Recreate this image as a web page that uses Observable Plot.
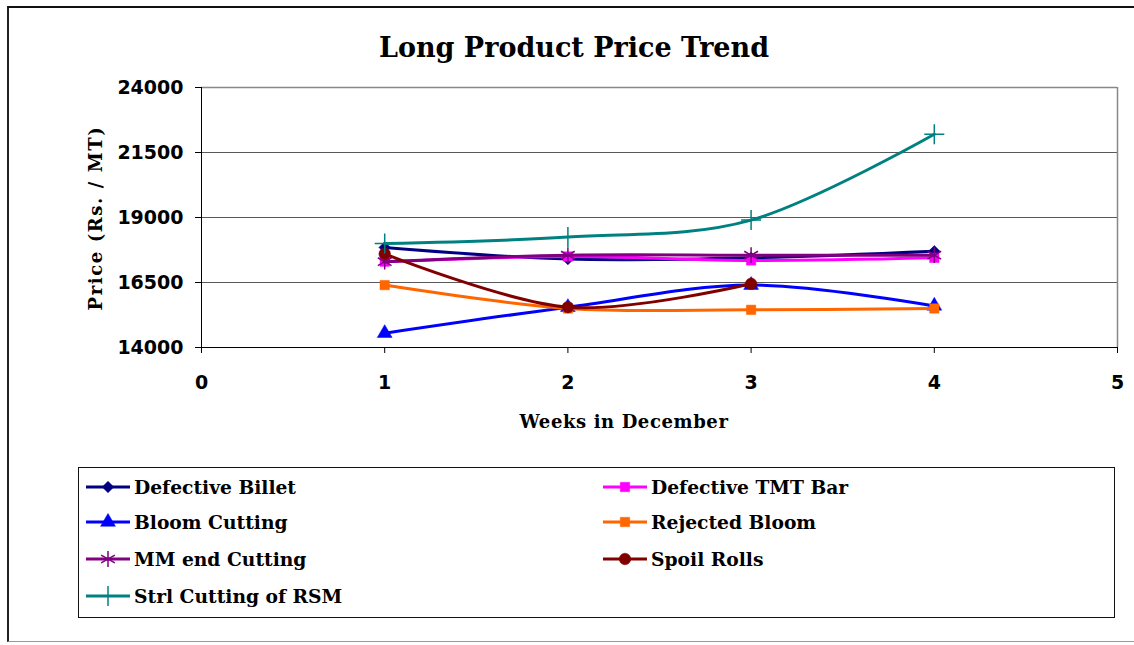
<!DOCTYPE html>
<html>
<head>
<meta charset="utf-8">
<script src="https://cdn.jsdelivr.net/npm/d3@7"></script>
<script src="https://cdn.jsdelivr.net/npm/@observablehq/plot@0.6"></script>
<style>
  html, body { margin: 0; padding: 0; background: #fff; }
  #wrap { position: relative; width: 1134px; height: 645px; overflow: hidden; background: #fff; }
  #frame { position: absolute; left: 7px; top: 6px; width: 1140px; height: 636px;
           border-left: 2px solid #222; border-top: 2px solid #111; border-bottom: 1px solid #999; box-sizing: border-box; }
  .txt { position: absolute; transform: translate(-50%, -50%); white-space: nowrap;
         font-family: "DejaVu Serif", serif; font-weight: bold; color: #000; }
  #title { left: 574px; top: 47px; font-size: 27px; }
  #xlab { left: 624px; top: 421px; font-size: 18px; letter-spacing: 0.6px; }
  #ylab { left: 95px; top: 218px; font-size: 18px; letter-spacing: 1.6px; transform: translate(-50%, -50%) rotate(-90deg); }
  #legend { position: absolute; left: 78px; top: 467px; width: 1037px; height: 151px;
            border: 1px solid #111; box-sizing: border-box; background: #fff; }
  .item { position: absolute; display: flex; align-items: center; height: 30px;
          font-family: "DejaVu Serif", serif; font-weight: bold; font-size: 18.7px; color: #000; }
  .item svg { display: block; margin-right: 3px; }
  #plot { position: absolute; left: 0; top: 0; }
</style>
</head>
<body>
<div id="wrap">
  <div id="frame"></div>
  <div id="plot"></div>
  <div id="title" class="txt">Long Product Price Trend</div>
  <div id="xlab" class="txt">Weeks in December</div>
  <div id="ylab" class="txt">Price (Rs. / MT)</div>
  <div id="legend"></div>
</div>
<script>
// ---- data ----
const weeks = [1, 2, 3, 4];
const seriesNames = ["Defective Billet", "Defective TMT Bar", "Bloom Cutting", "Rejected Bloom", "MM end Cutting", "Spoil Rolls", "Strl Cutting of RSM"];
const defectiveBillet = [17850, 17400, 17450, 17700];
const defectiveTMTBar = [17300, 17500, 17350, 17450];
const bloomCutting    = [14550, 15550, 16400, 15600];
const rejectedBloom   = [16400, 15500, 15450, 15500];
const mmEndCutting    = [17300, 17550, 17550, 17550];
const spoilRolls      = [17600, 15550, 16450];
const strlCuttingRSM  = [18000, 18250, 18900, 22200];
const xTicks = [0, 1, 2, 3, 4, 5];
const yTicks = [14000, 16500, 19000, 21500, 24000];

const seriesValues = [defectiveBillet, defectiveTMTBar, bloomCutting, rejectedBloom, mmEndCutting, spoilRolls, strlCuttingRSM];
const colors  = ["#000080", "#FF00FF", "#0000FF", "#FF6600", "#800080", "#800000", "#008080"];
const symbols = ["square", "square", "triangle", "square", "asterisk", "circle", "plus"];
const rotations = [45, 0, 0, 0, 0, 0, 0];
const filled  = [true, true, true, true, false, true, false];
const radii   = [4.6, 5.3, 5.5, 5.3, 7.5, 5.8, 6.5];

const marks = [
  Plot.gridY(yTicks.slice(1, -1), {stroke: "#222", strokeOpacity: 0.75, strokeWidth: 1}),
  Plot.ruleY([24000], {stroke: "#888", strokeWidth: 1.5}),
  Plot.ruleX([5], {stroke: "#888", strokeWidth: 1.5}),
  Plot.ruleX([0], {stroke: "#000", strokeWidth: 1}),
  Plot.ruleY([14000], {stroke: "#000", strokeWidth: 1}),
  Plot.axisY({ticks: yTicks, tickSize: 6, tickPadding: 12, label: null, tickFormat: d => String(d), stroke: "#000"}),
  Plot.axisX({ticks: xTicks, tickSize: 6, tickPadding: 22, label: null, tickFormat: d => String(d), stroke: "#000"})
];

seriesNames.forEach((name, i) => {
  const rows = seriesValues[i].map((v, j) => ({week: weeks[j], price: v}));
  marks.push(Plot.line(rows, {x: "week", y: "price", stroke: colors[i], strokeWidth: 3, curve: "cardinal"}));
  marks.push(Plot.dot(rows, {
    x: "week", y: "price", symbol: () => symbols[i], r: radii[i], rotate: rotations[i],
    fill: filled[i] ? colors[i] : "none",
    stroke: colors[i], strokeWidth: filled[i] ? 0.5 : 1.5
  }));
});

const chart = Plot.plot({
  width: 1134,
  height: 645,
  marginLeft: 201,
  marginRight: 17,
  marginTop: 87,
  marginBottom: 298,
  x: {domain: [0, 5]},
  y: {domain: [14000, 24000]},
  style: {fontFamily: "DejaVu Sans", fontSize: "19px", fontWeight: "bold", color: "#000", background: "transparent"},
  marks
});
document.getElementById("plot").appendChild(chart);

// ---- legend ----
const legend = document.getElementById("legend");
const positions = [
  [6, 4], [523, 4],
  [6, 39], [523, 39],
  [6, 76], [523, 76],
  [6, 113]
];
const symMap = {square: d3.symbolSquare, triangle: d3.symbolTriangle,
                asterisk: d3.symbolAsterisk, circle: d3.symbolCircle, plus: d3.symbolPlus};
seriesNames.forEach((name, i) => {
  const item = document.createElement("div");
  item.className = "item";
  item.style.left = positions[i][0] + "px";
  item.style.top = positions[i][1] + "px";
  const sym = d3.symbol(symMap[symbols[i]], Math.PI * radii[i] * radii[i])();
  item.innerHTML =
    `<svg width="46" height="30"><line x1="1" x2="45" y1="15" y2="15" stroke="${colors[i]}" stroke-width="3"/>` +
    `<path transform="translate(23,15) rotate(${rotations[i]})" d="${sym}" fill="${filled[i] ? colors[i] : "none"}" stroke="${colors[i]}" stroke-width="${filled[i] ? 0.5 : 1.5}"/></svg>` +
    `<span>${name}</span>`;
  legend.appendChild(item);
});
</script>
</body>
</html>
